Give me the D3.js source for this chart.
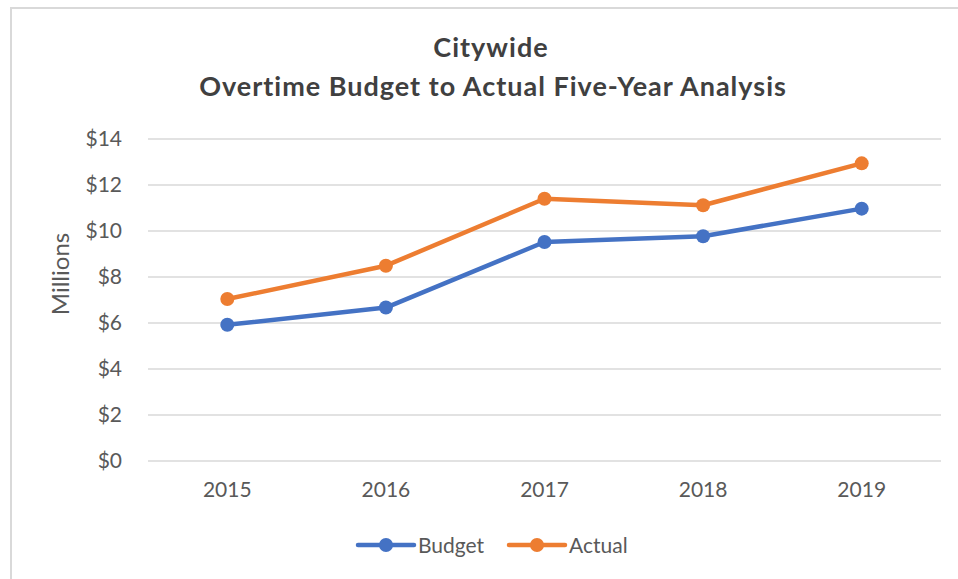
<!DOCTYPE html>
<html>
<head>
<meta charset="utf-8">
<script src="https://cdn.jsdelivr.net/npm/d3@7"></script>
<style>
  html, body { margin: 0; padding: 0; background: #fff; }
  svg { display: block; font-family: Lato, "Open Sans", sans-serif; }
</style>
</head>
<body>
<svg id="chart" width="958" height="579"></svg>
<script>
// Overtime budget vs. actual, millions of dollars
const years = ["2015", "2016", "2017", "2018", "2019"];
const budget = [5.9, 6.65, 9.5, 9.75, 10.95];
const actual = [7.02, 8.47, 11.38, 11.1, 12.92];
const yTicks = [0, 2, 4, 6, 8, 10, 12, 14];
const seriesNames = ["Budget", "Actual"];
const seriesColors = ["#4472C4", "#ED7D31"];

const svg = d3.select("#chart");
const W = 958, H = 579;
const plot = { left: 148, right: 941, top: 138.5, bottom: 460.5 };

// chart frame
svg.append("path")
  .attr("d", `M11,${H} V8 H${W}`)
  .attr("fill", "none")
  .attr("stroke", "#d9d9d9")
  .attr("stroke-width", 2);

// title
const title = svg.append("text")
  .attr("text-anchor", "middle")
  .attr("font-weight", "bold")
  .attr("font-size", 27)
  .attr("letter-spacing", 1)
  .attr("fill", "#404040");
title.append("tspan").attr("x", 491).attr("y", 57).text("Citywide");
title.append("tspan").attr("x", 493).attr("y", 96).text("Overtime Budget to Actual Five-Year Analysis");

const x = d3.scaleBand().domain(years).range([plot.left, plot.right]);
const y = d3.scaleLinear().domain([0, 14]).range([plot.bottom, plot.top]);

// horizontal gridlines + dollar labels
const yAxis = d3.axisLeft(y)
  .tickValues(yTicks)
  .tickSize(-(plot.right - plot.left))
  .tickPadding(26)
  .tickFormat(d => "$" + d);
const gy = svg.append("g").attr("transform", `translate(${plot.left},0)`).call(yAxis);
gy.select(".domain").remove();
gy.selectAll(".tick line").attr("stroke", "#d9d9d9").attr("stroke-width", 1.5);
gy.selectAll(".tick text")
  .attr("fill", "#595959")
  .attr("font-size", 21)
  .attr("font-family", "Lato, sans-serif");

// category labels
const xAxis = d3.axisBottom(x).tickSize(0).tickPadding(22);
const gx = svg.append("g").attr("transform", `translate(0,${plot.bottom})`).call(xAxis);
gx.select(".domain").remove();
gx.selectAll(".tick text")
  .attr("fill", "#595959")
  .attr("font-size", 21)
  .attr("font-family", "Lato, sans-serif");

// axis title
svg.append("text")
  .attr("transform", "translate(69,274) rotate(-90)")
  .attr("text-anchor", "middle")
  .attr("font-size", 24)
  .attr("fill", "#595959")
  .text("Millions");

// series lines and markers
const cx = d => x(d) + x.bandwidth() / 2;
const seriesData = [budget, actual];
const line = d3.line().x((d, i) => cx(years[i])).y(d => y(d));

seriesData.forEach((vals, s) => {
  const g = svg.append("g");
  g.append("path")
    .datum(vals)
    .attr("d", line)
    .attr("fill", "none")
    .attr("stroke", seriesColors[s])
    .attr("stroke-width", 4.5)
    .attr("stroke-linejoin", "round");
  g.selectAll("circle")
    .data(vals)
    .join("circle")
    .attr("cx", (d, i) => cx(years[i]))
    .attr("cy", d => y(d))
    .attr("r", 7)
    .attr("fill", seriesColors[s]);
});

// legend
const legendX = [358, 509];
const legendY = 545;
seriesNames.forEach((name, s) => {
  const g = svg.append("g").attr("transform", `translate(${legendX[s]},${legendY})`);
  g.append("line")
    .attr("x1", 0).attr("x2", 56).attr("y1", 0).attr("y2", 0)
    .attr("stroke", seriesColors[s])
    .attr("stroke-width", 4.5)
    .attr("stroke-linecap", "round");
  g.append("circle").attr("cx", 28).attr("cy", 0).attr("r", 7).attr("fill", seriesColors[s]);
  g.append("text")
    .attr("x", 60).attr("y", 7.5)
    .attr("font-size", 21)
    .attr("fill", "#595959")
    .text(name);
});
</script>
</body>
</html>
